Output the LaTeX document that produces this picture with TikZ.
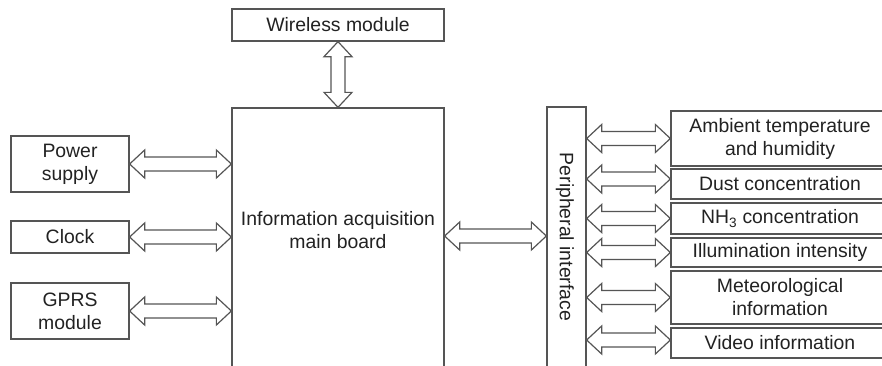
\documentclass[tikz,border=0pt]{standalone}
\usepackage{fontspec}
\setmainfont{Liberation Sans}
\usetikzlibrary{calc}
\definecolor{linegray}{HTML}{555555}
\definecolor{txt}{HTML}{222222}
\newcommand\fs{\fontsize{19.4}{23}\selectfont}
\tikzset{
  box/.style={draw=linegray, line width=1.3pt, fill=white, inner sep=0pt, align=center, font=\fs, text=txt},
  lbl/.style={inner sep=0pt, align=center, font=\fs, text=txt},
  conn/.style={draw=linegray, line width=1.2pt, fill=white, line join=miter},
}
% horizontal double block arrow from #1 (left tip) to #2 (right tip)
\newcommand\harr[2]{\path[conn] let \p1=(#1), \p2=(#2) in
  (\x1,\y1) -- (\x1+15pt,\y1+14pt) -- (\x1+15pt,\y1+7pt) -- (\x2-15pt,\y2+7pt) -- (\x2-15pt,\y2+14pt)
  -- (\x2,\y2) -- (\x2-15pt,\y2-14pt) -- (\x2-15pt,\y2-7pt) -- (\x1+15pt,\y1-7pt) -- (\x1+15pt,\y1-14pt) -- cycle;}
% vertical double block arrow from #1 (top tip) to #2 (bottom tip)
\newcommand\varr[2]{\path[conn] let \p1=(#1), \p2=(#2) in
  (\x1,\y1) -- (\x1+14pt,\y1-15pt) -- (\x1+7pt,\y1-15pt) -- (\x2+7pt,\y2+15pt) -- (\x2+14pt,\y2+15pt)
  -- (\x2,\y2) -- (\x2-14pt,\y2+15pt) -- (\x2-7pt,\y2+15pt) -- (\x1-7pt,\y1-15pt) -- (\x1-14pt,\y1-15pt) -- cycle;}
\begin{document}
\begin{tikzpicture}[x=1pt,y=-1pt]
\clip (0,0) rectangle (882,365);
\fill[white] (0,0) rectangle (882,365);

% central blocks
\node[box, minimum width=212pt, minimum height=32pt] (wl) at (338,25) {Wireless module};
\node[box, minimum width=212pt, minimum height=272pt] (main) at (338,244) {};
\node[lbl] (maintxt) at (338,230) {Information acquisition\\main board};
\node[box, minimum width=39pt, minimum height=273pt] (pi) at (566.5,243.5) {};
\node[lbl, rotate=-90] (pitxt) at (565,237) {Peripheral interface};

% left blocks
\node[box, minimum width=118pt, minimum height=56pt] (ps) at (70,164) {Power\\supply};
\node[box, minimum width=118pt, minimum height=32pt] (clk) at (70,237) {Clock};
\node[box, minimum width=118pt, minimum height=56pt] (gprs) at (70,311) {GPRS\\module};

% right blocks
\node[box, minimum width=218pt, minimum height=55pt] (amb) at (780,138.5) {Ambient temperature\\and humidity};
\node[box, minimum width=218pt, minimum height=30pt] (dust) at (780,184) {Dust concentration};
\node[box, minimum width=218pt, minimum height=31pt] (nh) at (780,218.5) {NH\textsubscript{3} concentration};
\node[box, minimum width=218pt, minimum height=29pt] (ill) at (780,252.5) {Illumination intensity};
\node[box, minimum width=218pt, minimum height=53pt] (met) at (780,297.5) {Meteorological\\information};
\node[box, minimum width=218pt, minimum height=30pt] (vid) at (780,343) {Video information};

% connectors
\varr{wl.south}{main.north}
\harr{ps.east}{main.west |- ps.east}
\harr{clk.east}{main.west |- clk.east}
\harr{gprs.east}{main.west |- gprs.east}
\coordinate (mp) at ($(main.east)+(0,-8)$);
\harr{mp}{pi.west |- mp}
\harr{pi.east |- amb.west}{amb.west}
\coordinate (dustin) at ($(dust.west)+(0,-5)$);
\harr{pi.east |- dustin}{dustin}
\harr{pi.east |- nh.west}{nh.west}
\harr{pi.east |- ill.west}{ill.west}
\harr{pi.east |- met.west}{met.west}
\coordinate (vidin) at ($(vid.west)+(0,-3)$);
\harr{pi.east |- vidin}{vidin}
\end{tikzpicture}
\end{document}
